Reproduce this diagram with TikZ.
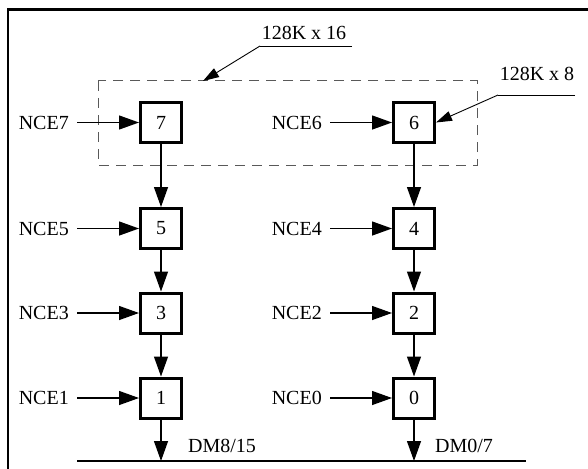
\documentclass[tikz,border=0pt]{standalone}
\usepackage{fontspec}
\setmainfont{Liberation Serif}
\usetikzlibrary{arrows.meta}
\begin{document}
\begin{tikzpicture}[x=1pt,y=-1pt,
  lbl/.style={font=\fontsize{20}{24}\selectfont, inner sep=0pt},
  chip/.style={draw, line width=3pt, minimum width=41pt, minimum height=40pt, inner sep=0pt, font=\fontsize{20}{24}\selectfont},
  sig/.style={line width=1.3pt, -{Triangle[length=20pt,width=14pt]}},
  lead/.style={line width=0.9pt},
  leadtip/.style={line width=0.9pt, -{Triangle[length=16pt,width=10pt]}},
  grp/.style={draw=black!65, line width=1pt, dash pattern=on 10pt off 7pt},
  frame/.style={line width=2.5pt}]
\useasboundingbox (0,0) rectangle (588,468);
% frame
\draw[frame] (8,472) -- (8,9.5) -- (592,9.5);
% group
\draw[grp] (98,81) rectangle (477,165);
% chips
\node[chip] (c7) at (161,122.5) {7};
\node[chip] (c5) at (161,228.5) {5};
\node[chip] (c3) at (161,313) {3};
\node[chip] (c1) at (161,398) {1};
\node[chip] (c6) at (414,122.5) {6};
\node[chip] (c4) at (414,228.5) {4};
\node[chip] (c2) at (414,313) {2};
\node[chip] (c0) at (414,398) {0};
% signal labels
\node[lbl, anchor=east] (n7) at (69,122.5) {NCE7};
\node[lbl, anchor=east] (n5) at (69,228.5) {NCE5};
\node[lbl, anchor=east] (n3) at (69,313) {NCE3};
\node[lbl, anchor=east] (n1) at (69,398) {NCE1};
\node[lbl, anchor=east] (n6) at (322,122.5) {NCE6};
\node[lbl, anchor=east] (n4) at (322,228.5) {NCE4};
\node[lbl, anchor=east] (n2) at (322,313) {NCE2};
\node[lbl, anchor=east] (n0) at (322,398) {NCE0};
\foreach \n/\c in {n7/c7,n5/c5,n3/c3,n1/c1,n6/c6,n4/c4,n2/c2,n0/c0}
  \draw[sig] ([xshift=8pt]\n.east) -- (\c.west);
% vertical chain
\draw[sig] (c7) -- (c5);
\draw[sig] (c5) -- (c3);
\draw[sig] (c3) -- (c1);
\draw[sig] (c6) -- (c4);
\draw[sig] (c4) -- (c2);
\draw[sig] (c2) -- (c0);
% bus
\coordinate (busl) at (77,461);
\coordinate (busr) at (526,461);
\draw[line width=1.5pt] (busl) -- (busr);
\coordinate (b1) at (161,461);
\coordinate (b0) at (414,461);
\draw[sig] (c1) -- (b1);
\draw[sig] (c0) -- (b0);
\node[lbl, anchor=west] (dm1) at (188,446) {DM8/15};
\node[lbl, anchor=west] (dm0) at (435,446) {DM0/7};
% 128K x 16 leader
\node[lbl] (t16) at (304,32.5) {128K x 16};
\coordinate (l16a) at (352,46);
\coordinate (l16b) at (260,46);
\coordinate (l16c) at (203,81);
\draw[lead] (l16a) -- (l16b);
\draw[leadtip] (l16b) -- (l16c);
% 128K x 8 leader
\node[lbl] (t8) at (537,73.5) {128K x 8};
\coordinate (l8a) at (575,95);
\coordinate (l8b) at (498,95);
\draw[lead] (l8a) -- (l8b);
\draw[leadtip] (l8b) -- ([yshift=0pt]c6.east);
\end{tikzpicture}
\end{document}
